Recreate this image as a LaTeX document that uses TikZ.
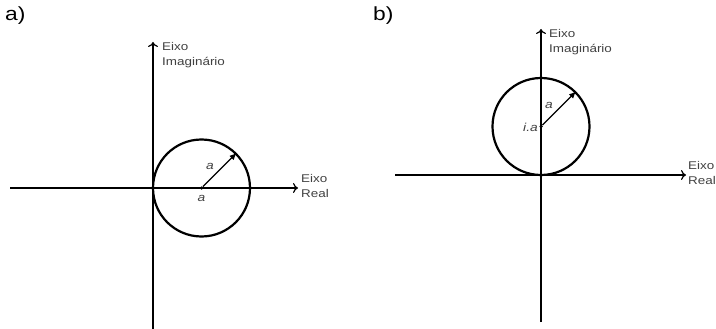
\documentclass[tikz,border=0pt]{standalone}
\usepackage{fontspec}
\setmainfont{Liberation Sans}
\usetikzlibrary{arrows.meta}
\newcommand{\wide}[1]{\scalebox{1.2}[1]{#1}}
\begin{document}
\begin{tikzpicture}[x=1pt,y=-1pt,
  axis/.style={line width=2pt,-{To[length=5pt,width=10pt,line width=1.2pt]}},
  ring/.style={circle,draw,line width=2.2pt,minimum size=97pt,inner sep=0pt},
  radius/.style={line width=1.3pt,-{Latex[length=7pt,width=6pt]}},
  lbl/.style={font=\fontsize{11.2}{15}\selectfont,inner sep=0pt,align=left,anchor=north west,text=black!75},
  var/.style={font=\fontsize{11.5}{12}\selectfont\itshape,inner sep=0pt,text=black!75},
  panel/.style={font=\fontsize{19}{20}\selectfont,inner sep=0pt,anchor=north west},
  dot/.style={circle,fill,inner sep=0pt,minimum size=3.5pt}]
\useasboundingbox (0,0) rectangle (716,329);
% ---- panel a
\node[panel] (pa) at (5,7) {\wide{a)}};
\coordinate (ax1) at (10,188);
\coordinate (ax2) at (298,188);
\coordinate (ay1) at (153,329);
\coordinate (ay2) at (153,42);
\draw[axis] (ax1) -- (ax2);
\draw[axis] (ay1) -- (ay2);
\node[ring] (ca) at (201.5,188) {};
\node[dot] (cda) at (201.5,188) {};
\draw[radius] (cda) -- (ca.45);
\node[var] (ra) at (210,166.5) {\wide{a}};
\node[var] (la) at (201.5,198.5) {\wide{a}};
\node[lbl] (ima) at (162,42) {\wide{Eixo}\\\wide{Imagin\'ario}};
\node[lbl] (rea) at (301,174) {\wide{Eixo}\\\wide{Real}};
% ---- panel b
\node[panel] (pb) at (373,7) {\wide{b)}};
\coordinate (bx1) at (395,175);
\coordinate (bx2) at (686,175);
\coordinate (by1) at (541,322);
\coordinate (by2) at (541,29);
\draw[axis] (bx1) -- (bx2);
\draw[axis] (by1) -- (by2);
\node[ring] (cb) at (541,126.5) {};
\node[dot] (cdb) at (541,126.5) {};
\draw[radius] (cdb) -- (cb.45);
\node[var] (rb) at (549,105) {\wide{a}};
\node[var,anchor=east] (lb) at (538,127) {\wide{i.a}};
\node[lbl] (imb) at (549,29) {\wide{Eixo}\\\wide{Imagin\'ario}};
\node[lbl] (reb) at (688,161) {\wide{Eixo}\\\wide{Real}};
\end{tikzpicture}
\end{document}
